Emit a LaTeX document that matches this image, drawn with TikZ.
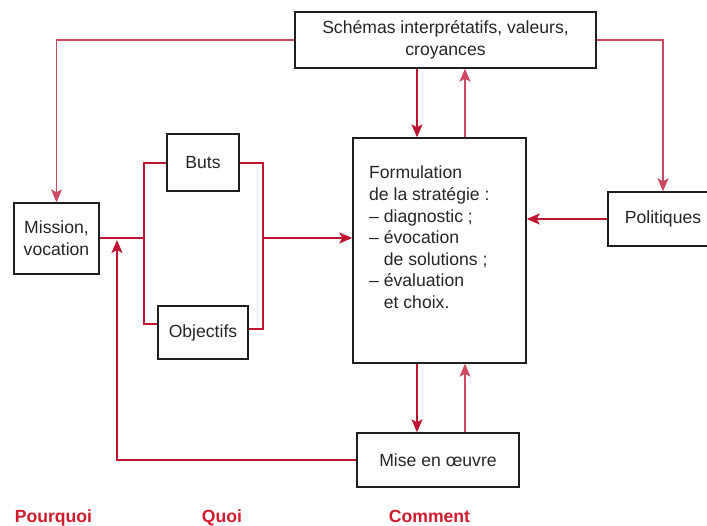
\documentclass[tikz,border=0pt]{standalone}
\usepackage{fontspec}
\setmainfont{Liberation Sans}
\usetikzlibrary{arrows.meta}
\definecolor{linkred}{RGB}{190,20,50}
\definecolor{palered}{RGB}{206,72,98}
\definecolor{labelred}{RGB}{208,28,44}
\begin{document}
\begin{tikzpicture}[x=1pt,y=-1pt,
  txt/.style={font=\fontsize{17.6}{21.6}\selectfont, text=black!85},
  box/.style={txt, draw=black!88, line width=1.4pt, fill=white, inner sep=0pt, align=center},
  strong/.style={draw=linkred, line width=2pt},
  light/.style={draw=palered, line width=1.2pt},
  headto/.style={-{Stealth[length=13pt,width=11pt,inset=3pt]}},
  question/.style={font=\fontsize{17.6}{21.6}\selectfont\bfseries, text=labelred, anchor=base, inner sep=0pt}
]
\useasboundingbox (0,0) rectangle (707,525);

% boxes
\node[box, minimum width=301pt, minimum height=56pt] (schemas) at (445.5,40)
  {Schémas interprétatifs, valeurs,\\croyances};
\node[box, minimum width=85pt, minimum height=71pt] (mission) at (56.5,238.5)
  {Mission,\\vocation};
\node[box, minimum width=72pt, minimum height=57pt] (buts) at (203,162.5) {Buts};
\node[box, minimum width=90pt, minimum height=53pt] (objectifs) at (203,332.5) {Objectifs};
\node[box, minimum width=173pt, minimum height=225pt] (form) at (439.5,250.5) {};
\node[txt, anchor=north west, inner sep=0pt, align=left] (formtext) at (369,166)
  {Formulation\\de la stratégie :\\– diagnostic ;\\– évocation\\\hphantom{–\ }de solutions ;\\– évaluation\\\hphantom{–\ }et choix.};
\node[box, minimum width=110pt, minimum height=54pt] (politiques) at (663,219) {Politiques};
\node[box, minimum width=162pt, minimum height=54pt] (mise) at (438,460) {Mise en œuvre};

% column positions of the paired links and bus lines
\coordinate (down) at (417,0);
\coordinate (up) at (465,0);
\coordinate (busL) at (144,238);
\coordinate (busR) at (263,238);
\coordinate (back) at (117,240);

% links from the values box
\draw[light, headto] (schemas.west) -| (mission.north);
\draw[light, headto] (schemas.east) -| (politiques.north);
\draw[strong, headto] (schemas.south -| down) -- (form.north -| down);
\draw[light, headto] (form.north -| up) -- (schemas.south -| up);

% politics into formulation
\draw[strong, headto] (politiques.west) -- (politiques.west -| form.east);

% mission through goals and objectives
\draw[strong] (mission.east |- busL) -- (busL);
\draw[strong] (buts.west) -| (busL) |- ([yshift=8.5pt]objectifs.west);
\draw[strong] (buts.east) -| (busR) |- ([yshift=3.5pt]objectifs.east);
\draw[strong, headto] (busR) -- (busR -| form.west);

% formulation and implementation
\draw[strong, headto] (form.south -| down) -- (mise.north -| down);
\draw[light, headto] (mise.north -| up) -- (form.south -| up);
\draw[strong, headto] (mise.west) -| (back);

% column headings
\node[question] (pourquoi) at (53.5,522.5) {Pourquoi};
\node[question] (quoi) at (222,522.5) {Quoi};
\node[question] (comment) at (429.5,522.5) {Comment};
\end{tikzpicture}
\end{document}
